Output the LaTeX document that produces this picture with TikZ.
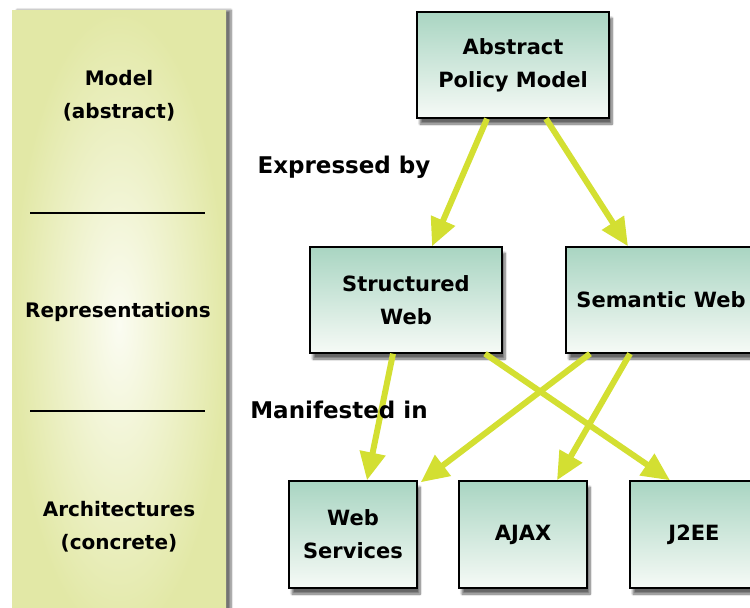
\documentclass[tikz,border=0pt]{standalone}
\usepackage{fontspec}
\setmainfont{DejaVu Sans}
\usetikzlibrary{arrows.meta,shadows.blur,calc}

\definecolor{panelEdge}{HTML}{E2E8A6}
\definecolor{panelMid}{HTML}{FBFCF2}
\definecolor{boxTop}{HTML}{A9D5C2}
\definecolor{boxBot}{HTML}{F6FAF6}
\definecolor{linkGreen}{HTML}{D3DF32}

\tikzset{
  conceptbox/.style={draw=black, line width=1.4pt, top color=boxTop, bottom color=boxBot,
    blur shadow={shadow xshift=3pt, shadow yshift=-6pt, shadow blur steps=8, shadow opacity=60},
    align=center, font=\fontsize{21}{33}\selectfont\bfseries, inner sep=0pt},
  wide/.style={conceptbox, minimum width=192pt, minimum height=106pt},
  narrow/.style={conceptbox, minimum width=128pt, minimum height=107pt},
  link/.style={draw=linkGreen, line width=6pt, -{Triangle[length=28pt,width=25pt]}},
  layerlabel/.style={align=center, font=\fontsize{20}{33}\selectfont\bfseries},
  edgelabel/.style={font=\fontsize{23}{28}\selectfont\bfseries, inner sep=0pt},
}

\begin{document}
\begin{tikzpicture}[x=1pt,y=-1pt]
  \useasboundingbox (0,0) rectangle (750,608);

  % left column with the three abstraction levels
  \path[inner color=panelMid, outer color=panelEdge,
        blur shadow={shadow xshift=5pt, shadow yshift=0pt, shadow blur steps=8, shadow opacity=55}]
    (12,10) rectangle (226,640);
  \node[layerlabel] (lmodel) at (119,96) {Model\\(abstract)};
  \node[layerlabel] (lrep) at (118,312) {Representations};
  \node[layerlabel] (larch) at (119,527) {Architectures\\(concrete)};
  \coordinate (sepAl) at (30,213);
  \coordinate (sepAr) at (205,213);
  \coordinate (sepBl) at (30,411);
  \coordinate (sepBr) at (205,411);
  \draw[line width=1.8pt] (sepAl) -- (sepAr);
  \draw[line width=1.8pt] (sepBl) -- (sepBr);

  % concept boxes
  \node[wide] (apm) at (513,65) {Abstract\\Policy Model};
  \node[wide] (sw) at (406,300) {Structured\\Web};
  \node[wide, minimum width=190pt] (sem) at (661,300) {Semantic Web};
  \node[narrow] (ws) at (353,534.5) {Web\\Services};
  \node[narrow] (ajax) at (523,534.5) {AJAX};
  \node[narrow] (j2ee) at (694,534.5) {J2EE};

  % connectors
  \draw[link] ([xshift=-26pt]apm.south) -- ([xshift=26pt]sw.north);
  \draw[link] ([xshift=33pt]apm.south) -- ([xshift=-33pt]sem.north);
  \draw[link] ([xshift=-13pt]sw.south) -- ([xshift=14pt]ws.north);
  \draw[link] ([xshift=79pt]sw.south) -- ([xshift=-24pt]j2ee.north);
  \draw[link] ([xshift=-71pt]sem.south) -- ([xshift=3pt,yshift=-2pt]ws.north east);
  \draw[link] ([xshift=-31pt]sem.south) -- ([xshift=34pt]ajax.north);

  % relation labels
  \node[edgelabel] (expr) at (344,167) {Expressed by};
  \node[edgelabel] (manif) at (339,410) {Manifested in};
\end{tikzpicture}
\end{document}
